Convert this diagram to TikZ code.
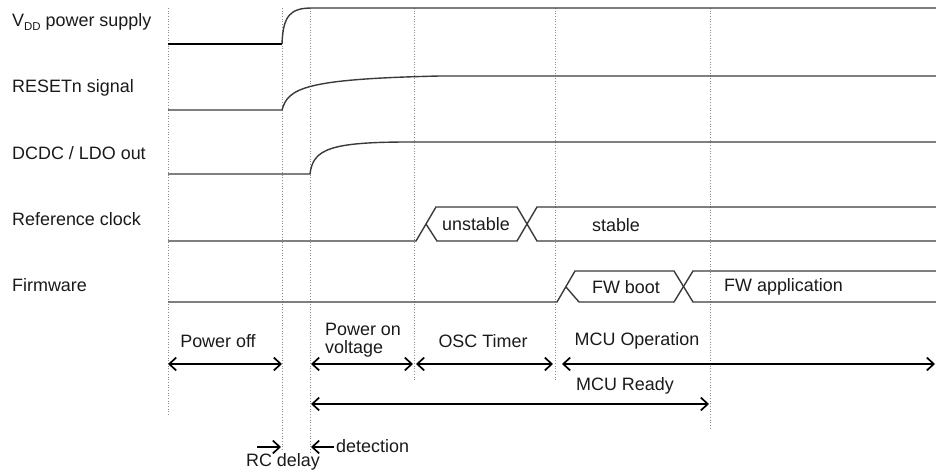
\documentclass[tikz,border=0pt]{standalone}
\usepackage{fontspec}
\setmainfont{Liberation Sans}
\usetikzlibrary{positioning,arrows.meta,calc}
\definecolor{sig}{HTML}{3A3A3A}
\definecolor{guidec}{HTML}{8C8C8C}
\definecolor{ink}{HTML}{1A1A1A}
\newcommand{\dsub}[1]{\raisebox{-0.4ex}{\fontsize{11.5}{11.5}\selectfont #1}}
\tikzset{
  lbl/.style={anchor=west, inner sep=0pt, text=ink, font=\fontsize{18}{21}\selectfont},
  txt/.style={inner sep=0pt, text=ink, font=\fontsize{18}{21}\selectfont},
  wave/.style={draw=sig, line width=1.4pt},
  guide/.style={draw=guidec, line width=0.7pt, dotted},
  span/.style={{Straight Barb[length=7pt,width=13pt]}-{Straight Barb[length=7pt,width=13pt]},
               line width=1.7pt, draw=black},
  onearrow/.style={-{Straight Barb[length=7pt,width=13pt]}, line width=1.7pt, draw=black}
}
\begin{document}
\begin{tikzpicture}[x=1bp, y=-1bp]
\useasboundingbox (0,0) rectangle (936,472);
% signal names
\node[lbl] (vdd)  at (12,22)  {V\dsub{DD} power supply};
\node[lbl] (rst)  at (12,88)  {RESETn signal};
\node[lbl] (dcdc) at (12,153) {DCDC / LDO out};
\node[lbl] (clk)  at (12,219) {Reference clock};
\node[lbl] (fw)   at (12,285) {Firmware};
% time marks
\foreach \x/\yb in {168/415, 282/450, 310/452, 414/380, 555/380, 710/430}
  \draw[guide] (\x,8) -- (\x,\yb);
% waveforms
\draw[wave, line width=2pt, draw=black] (168,44) -- (282,44);
\draw[wave] (282,44) .. controls (283,16) and (290,8) .. (312,8) -- (936,8);
\draw[wave] (168,110) -- (282,110) .. controls (288,88) and (305,79) .. (440,76) -- (936,76);
\draw[wave] (168,174) -- (310,174) .. controls (313,149) and (330,142) .. (410,142) -- (936,142);
% reference clock bus
\draw[wave] (168,241) -- (416,241) -- (436,207) -- (517,207) -- (537,241) -- (936,241);
\draw[wave] (426,224) -- (437,241) -- (517,241) -- (537,207) -- (936,207);
\node[txt] (unst) at (476,224) {unstable};
\node[txt] (stab) at (616,225) {stable};
% firmware bus
\draw[wave] (168,302) -- (557,302) -- (575,271) -- (674,271) -- (693,302) -- (936,302);
\draw[wave] (566,287) -- (579,302) -- (674,302) -- (693,271) -- (936,271);
\node[txt] (boot) at (626,287) {FW boot};
\node[txt, anchor=west] (app) at (724,287) {FW application};
% phases
\coordinate (p0) at (168,364); \coordinate (p1) at (282,364);
\coordinate (p2) at (311,364); \coordinate (p3) at (413,364);
\coordinate (p4) at (416,364); \coordinate (p5) at (553,364);
\coordinate (p6) at (562,364); \coordinate (p7) at (935,364);
\coordinate (r0) at (311,404); \coordinate (r1) at (709,404);
\draw[span] (p0) -- (p1);
\draw[span] (p2) -- (p3);
\draw[span] (p4) -- (p5);
\draw[span] (p6) -- (p7);
\draw[span] (r0) -- (r1);
\node[txt] (poff) at (218,341) {Power off};
\node[txt, anchor=west, align=left] (pon) at (325,340) {Power on\\[-3pt]voltage};
\node[txt] (osc) at (483,341) {OSC Timer};
\node[txt] (mcuop) at (637,341) {MCU Operation};
\node[txt] (mcurdy) at (625,386) {MCU Ready};
% delays
\coordinate (rc0) at (257,447); \coordinate (rc1) at (281,447);
\coordinate (dt0) at (334,447); \coordinate (dt1) at (311,447);
\draw[onearrow] (rc0) -- (rc1);
\draw[onearrow] (dt0) -- (dt1);
\node[txt] (rc) at (283,462) {RC delay};
\node[txt, anchor=west] (det) at (336,446) {detection};
\end{tikzpicture}
\end{document}
